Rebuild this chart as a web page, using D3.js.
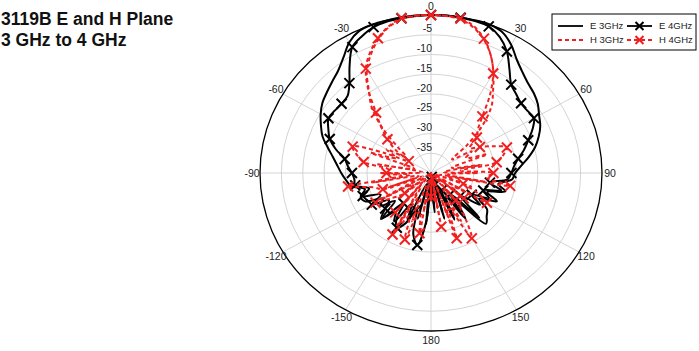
<!DOCTYPE html>
<html>
<head>
<meta charset="utf-8">
<script src="https://cdn.jsdelivr.net/npm/d3@7"></script>
<style>
  body { margin: 0; background: white; }
  text { font-family: "Liberation Sans", Arial, sans-serif; }
</style>
</head>
<body>
<div id="container"></div>
<script>
let w = 699;
let h = 351;

// angles in degrees, 0 at top, clockwise
let angles = d3.range(-180, 180, 5);

// dB values, -180 .. 175 step 5
let e3GHz = [
  -36, -27, -36, -28, -37, -27, -31, -25, -27, -24, -29, -25.5, -27, -23, -22.5, -24, -21, -20,
  -19, -18, -16.7, -15, -13, -11.6, -10.2, -9, -8.2, -7.3, -6.2, -4.3, -1.8, -0.3, 0, 0, 0, 0,
  0, 0, -0.1, 0, 0, -0.6, -2.5, -5, -6.7, -7.9, -8.6, -9.5, -10.8, -11.8, -13.2, -14.8, -16.8, -18.8,
  -20.3, -21, -24, -22, -26, -23, -27, -24, -23, -21.8, -30, -26, -33, -27, -36, -28, -38, -30
];
let e4GHz = [
  -38, -28, -21.5, -24, -30, -26, -24, -26, -30, -23.5, -26, -28, -24, -27, -23, -25, -22, -22,
  -21.5, -20.5, -19.5, -17, -14.8, -13.5, -12.3, -12.5, -12.7, -12.4, -10.3, -6.8, -3.2, -1.8, -0.7, -0.3, -0.2, -0.1,
  0, 0, -0.1, -0.2, -0.5, -2, -4.5, -8, -10.8, -11.8, -12.5, -12.5, -12.2, -13.8, -15.8, -17.5, -19.3, -20.5,
  -21.2, -22, -26, -23, -27, -25, -29, -26, -31, -24, -33, -28, -35, -27, -37, -30, -39, -32
];
let h3GHz = [
  -33, -40, -30, -38, -27, -33, -25, -36, -28, -40, -30, -35, -27, -38, -29, -37, -26, -35,
  -28, -38, -27, -36, -25, -31, -28, -33, -30, -24, -18.5, -14.7, -10, -6.8, -4, -1.8, -0.5, -0.1,
  0, -0.1, -0.5, -1.8, -4, -7, -10.8, -14.7, -18, -23, -29, -34, -29, -31, -26, -35, -28, -37,
  -29, -36, -27, -38, -30, -39, -28, -34, -31, -40, -29, -35, -26, -32, -28, -39, -31, -40
];
let h4GHz = [
  -34, -40, -24.5, -30, -22.1, -28, -22, -34, -27, -38, -32, -29, -25, -36, -28, -26, -20.3, -33,
  -29.6, -30, -24, -22, -20.5, -28, -34, -30, -26.7, -23.5, -20, -14.5, -9.5, -6.3, -3.7, -1.6, -0.2, 0,
  0, -0.1, -0.3, -1.5, -3.8, -7, -10.9, -16, -21.3, -24.5, -26, -29, -26.8, -24, -21.1, -22.5, -24.4, -33,
  -25.4, -27, -21.2, -36, -32, -28, -24.9, -37, -30, -39, -31, -26, -20.9, -30, -22.4, -38, -26.2, -39
];

let ringTicks = [-35, -30, -25, -20, -15, -10, -5];
let spokeAngles = [0, 30, 60, 90, 120, 150, 180, 210, 240, 270, 300, 330];
let spokeLabels = ["0", "30", "60", "90", "120", "150", "180", "-150", "-120", "-90", "-60", "-30"];
let legendNames = ["E 3GHz", "E 4GHz", "H 3GHz", "H 4GHz"];

let red = "#f02020";

let viz = d3.select("#container")
  .append("svg")
    .attr("width", w)
    .attr("height", h)
    .style("background-color", "white")
;

let cx = 431;
let cy = 173;
let rx = 171;
let ry = 158;

let rScale = d3.scaleLinear().domain([-40, 0]).range([0, 1]).clamp(true);
let xScale = d3.scaleLinear().domain([-1, 1]).range([cx - rx, cx + rx]);
let yScale = d3.scaleLinear().domain([-1, 1]).range([cy + ry, cy - ry]);

function px(a, db){
  return xScale(rScale(db) * Math.sin(a * Math.PI / 180));
}
function py(a, db){
  return yScale(rScale(db) * Math.cos(a * Math.PI / 180));
}

// grid
let grid = viz.append("g");
grid.selectAll(".ring").data(ringTicks).enter()
  .append("ellipse")
    .attr("cx", cx)
    .attr("cy", cy)
    .attr("rx", d => xScale(rScale(d)) - cx)
    .attr("ry", d => cy - yScale(rScale(d)))
    .attr("fill", "none")
    .attr("stroke", "#cfcfcf")
    .attr("stroke-width", 0.9)
;
grid.selectAll(".spoke").data(spokeAngles).enter()
  .append("line")
    .attr("x1", cx)
    .attr("y1", cy)
    .attr("x2", d => px(d, 0))
    .attr("y2", d => py(d, 0))
    .attr("stroke", "#cfcfcf")
    .attr("stroke-width", 0.9)
;
grid.append("ellipse")
  .attr("cx", cx)
  .attr("cy", cy)
  .attr("rx", rx)
  .attr("ry", ry)
  .attr("fill", "none")
  .attr("stroke", "black")
  .attr("stroke-width", 1.3)
;

grid.selectAll(".ringlabel").data(ringTicks).enter()
  .append("text")
    .text(d => d)
    .attr("x", cx + 1)
    .attr("y", d => yScale(rScale(d)) - 2.5)
    .attr("text-anchor", "end")
    .attr("font-size", 10.5)
    .attr("fill", "#222")
;
grid.selectAll(".anglelabel").data(spokeAngles).enter()
  .append("text")
    .text((d, i) => spokeLabels[i])
    .attr("x", d => cx + 179 * Math.sin(d * Math.PI / 180))
    .attr("y", d => cy - 167 * Math.cos(d * Math.PI / 180))
    .attr("dy", "0.35em")
    .attr("text-anchor", "middle")
    .attr("font-size", 10.5)
    .attr("fill", "#222")
;

// curves
let series = [
  {name: "E 3GHz", values: e3GHz, color: "black", dash: null, marker: false},
  {name: "E 4GHz", values: e4GHz, color: "black", dash: null, marker: true},
  {name: "H 3GHz", values: h3GHz, color: red, dash: "4,3", marker: false},
  {name: "H 4GHz", values: h4GHz, color: red, dash: "4,3", marker: true}
];

let line = d3.line()
  .x(d => px(d[0], d[1]))
  .y(d => py(d[0], d[1]))
  .curve(d3.curveCatmullRomClosed.alpha(0.5));

function drawX(g, x, y, color, s){
  g.append("path")
    .attr("d", "M" + (x - s) + "," + (y - s) + "L" + (x + s) + "," + (y + s) + "M" + (x - s) + "," + (y + s) + "L" + (x + s) + "," + (y - s))
    .attr("stroke", color)
    .attr("stroke-width", 2)
    .attr("fill", "none");
}

series.forEach(function(s){
  let pts = angles.map((a, i) => [a, s.values[i]]);
  viz.append("path")
    .datum(pts)
    .attr("d", line)
    .attr("fill", "none")
    .attr("stroke", s.color)
    .attr("stroke-width", 2)
    .attr("stroke-dasharray", s.dash)
    .attr("stroke-linejoin", "round")
  ;
  if (s.marker){
    let mg = viz.append("g");
    pts.forEach(function(p){
      if (p[0] % 10 == 0){
        drawX(mg, px(p[0], p[1]), py(p[0], p[1]), s.color, 5);
      }
    });
  }
});

// legend
let lg = viz.append("g");
lg.append("rect")
  .attr("x", 552)
  .attr("y", 14)
  .attr("width", 144)
  .attr("height", 36)
  .attr("fill", "white")
  .attr("stroke", "black")
  .attr("stroke-width", 1);

series.forEach(function(s, i){
  let col = i % 2;
  let row = Math.floor(i / 2);
  let x0 = col == 0 ? 558 : 627;
  let y0 = row == 0 ? 26 : 40;
  lg.append("line")
    .attr("x1", x0)
    .attr("x2", x0 + 25)
    .attr("y1", y0)
    .attr("y2", y0)
    .attr("stroke", s.color)
    .attr("stroke-width", 1.8)
    .attr("stroke-dasharray", s.dash);
  if (s.marker){
    drawX(lg, x0 + 12.5, y0, s.color, 4);
  }
  lg.append("text")
    .text(legendNames[i])
    .attr("x", x0 + 32)
    .attr("y", y0)
    .attr("dy", "0.35em")
    .attr("font-size", 9.5)
    .attr("fill", "#222");
});

// title
viz.append("text")
  .text("3119B E and H Plane")
  .attr("x", 1)
  .attr("y", 25)
  .attr("font-size", 17.5)
  .attr("font-weight", "bold")
  .attr("fill", "#111");
viz.append("text")
  .text("3 GHz to 4 GHz")
  .attr("x", 1)
  .attr("y", 46)
  .attr("font-size", 17.5)
  .attr("font-weight", "bold")
  .attr("fill", "#111");
</script>
</body>
</html>
